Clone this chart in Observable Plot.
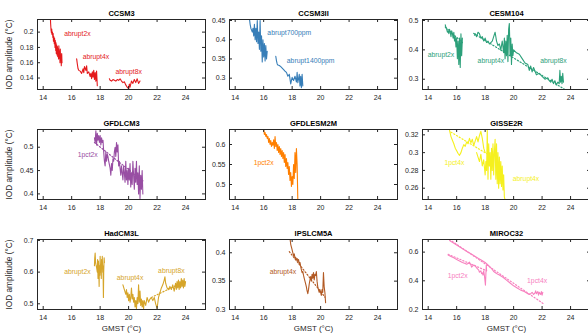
<!DOCTYPE html>
<html><head><meta charset="utf-8">
<script src="https://cdn.jsdelivr.net/npm/d3@7"></script>
<script src="https://cdn.jsdelivr.net/npm/@observablehq/plot@0.6"></script>
<style>
body{margin:0;background:#fff;}
#chart{position:relative;width:588px;height:334px;overflow:hidden;background:#fff;}
#chart svg{position:absolute;}
</style></head><body><div id="chart"></div><script>
// ---------- shared axes ----------
const xDomain = [13.6, 25.4];
const xTicks = [14, 16, 18, 20, 22, 24];
const titles = ["CCSM3","CCSM3II","CESM104","GFDLCM3","GFDLESM2M","GISSE2R","HadCM3L","IPSLCM5A","MIROC32"];
const colors = ["#e41a1c","#377eb8","#2ca07a","#984ea3","#ff7f00","#f5f01e","#d6a52a","#b25a24","#f781bf"];
const yDomains = [[0.125,0.2165],[0.2705,0.4526],[0.265,0.5034],[0.388,0.538],[0.4625,0.6375],[0.2473,0.326],[0.482,0.703],[0.3,0.4234],[0.2,0.688]];
const yTicks = [[0.14,0.16,0.18,0.2],[0.3,0.35,0.4,0.45],[0.3,0.4,0.5],[0.4,0.45,0.5],[0.5,0.55,0.6],[0.26,0.28,0.3,0.32],[0.5,0.6,0.7],[0.3,0.35,0.4],[0.2,0.4,0.6]];

// ---------- CCSM3 ----------
const ccsm3_2x_gmst = [14.50,14.52,14.55,14.58,14.60,14.62,14.65,14.68,14.70,14.72,14.75,14.78,14.80,14.83,14.85,14.88,14.90,14.92,14.95,14.97,15.00,15.02,15.05,15.08,15.10,15.12,15.15,15.18,15.20,15.22,15.25,15.27,15.30,15.32];
const ccsm3_2x_iod  = [0.222,0.212,0.203,0.199,0.204,0.197,0.200,0.193,0.198,0.188,0.194,0.185,0.192,0.180,0.189,0.176,0.186,0.172,0.183,0.170,0.181,0.168,0.178,0.165,0.182,0.166,0.175,0.160,0.178,0.163,0.170,0.156,0.172,0.160];
const ccsm3_4x_gmst = [16.35,16.40,16.45,16.50,16.60,16.70,16.80,16.85,16.90,17.00,17.05,17.10,17.20,17.30,17.35,17.40,17.45,17.50,17.55,17.60,17.65,17.70,17.75,17.80];
const ccsm3_4x_iod  = [0.165,0.158,0.152,0.150,0.149,0.146,0.152,0.147,0.155,0.150,0.156,0.146,0.148,0.142,0.146,0.139,0.148,0.141,0.150,0.138,0.147,0.136,0.149,0.130];
const ccsm3_8x_gmst = [18.65,18.70,18.80,18.90,19.00,19.10,19.20,19.30,19.40,19.50,19.60,19.70,19.80,19.90,20.00,20.05,20.10,20.20,20.30,20.40,20.50,20.60,20.70,20.80];
const ccsm3_8x_iod  = [0.139,0.137,0.136,0.138,0.137,0.136,0.138,0.137,0.139,0.136,0.134,0.135,0.131,0.128,0.126,0.132,0.128,0.136,0.133,0.138,0.134,0.139,0.133,0.136];
const ccsm3_labels = ["abrupt2x","abrupt4x","abrupt8x"];
const ccsm3_label_gmst = [16.4,17.7,20.0];
const ccsm3_label_iod = [0.198,0.168,0.1485];

// ---------- CCSM3II ----------
const ccsm3ii_700_gmst = [15.00,15.05,15.10,15.15,15.20,15.25,15.30,15.35,15.40,15.45,15.50,15.55,15.60,15.65,15.70,15.75,15.80,15.85,15.90,15.95,16.00,16.05,16.10,16.15,16.20,16.25];
const ccsm3ii_700_iod  = [0.455,0.440,0.430,0.425,0.420,0.430,0.410,0.440,0.400,0.430,0.395,0.450,0.390,0.420,0.375,0.450,0.370,0.410,0.342,0.400,0.355,0.390,0.345,0.385,0.350,0.370];
const ccsm3ii_1400_gmst = [16.85,16.90,16.95,17.00,17.10,17.20,17.30,17.40,17.50,17.60,17.70,17.80,17.90,18.00,18.10,18.20,18.30,18.35,18.40,18.50,18.55,18.60,18.65,18.70,18.75];
const ccsm3ii_1400_iod  = [0.357,0.345,0.337,0.334,0.333,0.330,0.326,0.322,0.318,0.315,0.305,0.310,0.285,0.302,0.294,0.305,0.290,0.315,0.288,0.310,0.280,0.305,0.275,0.310,0.280];
const ccsm3ii_labels = ["abrupt700ppm","abrupt1400ppm"];
const ccsm3ii_label_gmst = [17.8,19.3];
const ccsm3ii_label_iod = [0.417,0.345];

// ---------- CESM104 ----------
const cesm_2x_gmst = [15.20,15.25,15.30,15.35,15.40,15.45,15.50,15.55,15.60,15.65,15.70,15.75,15.80,15.85,15.90,15.95,16.00,16.05,16.10,16.15,16.20,16.25,16.30,16.35,16.40];
const cesm_2x_iod  = [0.485,0.475,0.470,0.460,0.465,0.455,0.470,0.460,0.445,0.465,0.455,0.440,0.460,0.430,0.445,0.410,0.440,0.370,0.430,0.350,0.440,0.340,0.455,0.380,0.440];
const cesm_4x_gmst = [17.25,17.30,17.40,17.50,17.60,17.70,17.80,17.90,18.00,18.10,18.20,18.30,18.40,18.50,18.60,18.70,18.80,18.90,19.00,19.10,19.20,19.30,19.35,19.40,19.45,19.50,19.55,19.60,19.65,19.70,19.75,19.80,19.85,19.90,19.95,20.00,20.20,20.40,20.60,20.80,21.00,21.10,21.20,21.30,21.40,21.60,21.80,22.00,22.20,22.40,22.50,22.60,22.70,22.80,22.90,23.00,23.10,23.20,23.25,23.30,23.35,23.40,23.45,23.50];
const cesm_4x_iod  = [0.450,0.455,0.445,0.460,0.455,0.440,0.445,0.430,0.440,0.425,0.430,0.420,0.425,0.430,0.445,0.460,0.430,0.415,0.420,0.400,0.430,0.390,0.440,0.370,0.430,0.380,0.450,0.360,0.470,0.490,0.380,0.440,0.350,0.420,0.380,0.400,0.390,0.385,0.370,0.355,0.350,0.330,0.345,0.325,0.340,0.315,0.320,0.310,0.300,0.305,0.295,0.290,0.300,0.285,0.295,0.280,0.290,0.285,0.330,0.290,0.310,0.285,0.320,0.290];
const cesm_fit2_gmst = [15.2,16.4];
const cesm_fit2_iod = [0.478,0.425];
const cesm_fit4_gmst = [17.2,23.6];
const cesm_fit4_iod = [0.456,0.265];
const cesm_labels = ["abrupt2x","abrupt4x","abrupt8x"];
const cesm_label_gmst = [14.9,18.4,22.8];
const cesm_label_iod = [0.383,0.363,0.361];

// ---------- GFDLCM3 ----------
const gfdlcm3_gmst = [17.60,17.65,17.70,17.75,17.80,17.85,17.90,17.95,18.00,18.05,18.10,18.15,18.20,18.25,18.30,18.35,18.40,18.45,18.50,18.55,18.60,18.70,18.75,18.80,18.85,18.90,18.95,19.00,19.05,19.10,19.15,19.20,19.25,19.30,19.35,19.40,19.45,19.50,19.55,19.60,19.65,19.70,19.75,19.80,19.85,19.90,19.95,20.00,20.05,20.10,20.15,20.20,20.25,20.30,20.35,20.40,20.45,20.50,20.55,20.60,20.65,20.70,20.75,20.80,20.85,20.90,20.95,21.00];
const gfdlcm3_iod  = [0.520,0.510,0.535,0.505,0.530,0.515,0.525,0.510,0.525,0.505,0.520,0.510,0.515,0.490,0.470,0.460,0.490,0.470,0.485,0.480,0.470,0.455,0.440,0.465,0.450,0.475,0.470,0.490,0.500,0.480,0.510,0.490,0.505,0.460,0.470,0.455,0.440,0.460,0.445,0.430,0.460,0.445,0.425,0.470,0.430,0.450,0.420,0.455,0.430,0.465,0.415,0.445,0.420,0.470,0.440,0.410,0.455,0.425,0.470,0.420,0.445,0.400,0.460,0.390,0.440,0.410,0.450,0.400];
const gfdlcm3_fit_gmst = [17.6,21.0];
const gfdlcm3_fit_iod = [0.510,0.428];
const gfdlcm3_labels = ["1pct2x"];
const gfdlcm3_label_gmst = [17.13];
const gfdlcm3_label_iod = [0.484];

// ---------- GFDLESM2M ----------
const gfdlesm_gmst = [16.00,16.05,16.10,16.15,16.20,16.25,16.30,16.35,16.40,16.45,16.50,16.55,16.60,16.65,16.70,16.75,16.80,16.85,16.90,16.95,17.00,17.05,17.10,17.15,17.20,17.25,17.30,17.35,17.40,17.45,17.50,17.55,17.60,17.65,17.70,17.75,17.80,17.85,17.90,17.95,18.00,18.05,18.10,18.15,18.20,18.25,18.30,18.35,18.40];
const gfdlesm_iod  = [0.640,0.625,0.630,0.620,0.625,0.615,0.620,0.605,0.615,0.600,0.610,0.595,0.605,0.598,0.612,0.590,0.620,0.595,0.605,0.585,0.600,0.580,0.595,0.575,0.590,0.570,0.585,0.565,0.580,0.555,0.575,0.545,0.565,0.540,0.555,0.525,0.545,0.510,0.530,0.495,0.520,0.500,0.550,0.515,0.580,0.530,0.590,0.550,0.460];
const gfdlesm_labels = ["1pct2x"];
const gfdlesm_label_gmst = [16.0];
const gfdlesm_label_iod = [0.553];

// ---------- GISSE2R ----------
const giss_1pct_gmst = [15.5,15.6,15.7,15.8,15.9,16.0,16.1,16.2,16.3,16.4,16.5,16.6,16.7,16.8,16.9,17.0,17.1,17.2,17.3,17.4,17.5,17.6,17.7,17.8,17.9,18.0];
const giss_1pct_iod  = [0.325,0.318,0.314,0.310,0.305,0.302,0.299,0.297,0.300,0.305,0.309,0.307,0.312,0.310,0.316,0.311,0.315,0.308,0.313,0.318,0.312,0.319,0.324,0.316,0.305,0.300];
const giss_ab_gmst = [17.40,17.50,17.60,17.70,17.80,17.90,18.00,18.05,18.10,18.15,18.20,18.25,18.30,18.35,18.40,18.45,18.50,18.55,18.60,18.65,18.70,18.75,18.80,18.85,18.90,18.95,19.00,19.05,19.10,19.15,19.20,19.25,19.30,19.35,19.40];
const giss_ab_iod  = [0.300,0.295,0.290,0.298,0.285,0.292,0.275,0.290,0.280,0.325,0.270,0.310,0.285,0.300,0.270,0.305,0.280,0.310,0.275,0.300,0.315,0.270,0.310,0.265,0.300,0.260,0.295,0.265,0.290,0.262,0.285,0.258,0.275,0.250,0.247];
const giss_fit_gmst = [15.6,18.2];
const giss_fit_iod = [0.323,0.298];
const giss_labels = ["1pct4x","abrupt4x"];
const giss_label_gmst = [15.84,20.87];
const giss_label_iod = [0.2888,0.2702];

// ---------- HadCM3L ----------
const had_2x_gmst = [17.60,17.62,17.65,17.68,17.70,17.75,17.80,17.82,17.85,17.88,17.90,17.93,17.95,17.98,18.00,18.03,18.05,18.08,18.10,18.13,18.15,18.18,18.20,18.23,18.25,18.28,18.30];
const had_2x_iod  = [0.620,0.645,0.660,0.630,0.625,0.615,0.600,0.640,0.580,0.635,0.610,0.555,0.620,0.590,0.650,0.600,0.625,0.580,0.640,0.610,0.650,0.600,0.620,0.520,0.600,0.645,0.630];
const had_4x_gmst = [19.60,19.70,19.80,19.85,19.90,19.95,20.00,20.05,20.10,20.15,20.20,20.25,20.30,20.35,20.40,20.45,20.50,20.55,20.60,20.65,20.70,20.75,20.80,20.85,20.90,20.95,21.00,21.05,21.10,21.20,21.30,21.40,21.50,21.60,21.70,21.80,21.90,22.00,22.10,22.20];
const had_4x_iod  = [0.560,0.545,0.530,0.545,0.520,0.535,0.510,0.530,0.505,0.520,0.550,0.515,0.530,0.505,0.520,0.490,0.510,0.484,0.520,0.500,0.560,0.505,0.540,0.495,0.515,0.490,0.510,0.484,0.510,0.495,0.520,0.505,0.515,0.520,0.510,0.520,0.500,0.486,0.520,0.535];
const had_8x_gmst = [22.20,22.30,22.40,22.50,22.55,22.60,22.70,22.80,22.90,23.00,23.10,23.20,23.30,23.35,23.40,23.45,23.50,23.55,23.60,23.65,23.70,23.75,23.80,23.85,23.90,23.95,24.00];
const had_8x_iod  = [0.535,0.550,0.560,0.575,0.585,0.565,0.550,0.545,0.555,0.545,0.560,0.540,0.565,0.545,0.570,0.550,0.575,0.545,0.570,0.550,0.580,0.555,0.575,0.550,0.580,0.555,0.570];
const had_fit_gmst = [21.6,24.0];
const had_fit_iod = [0.520,0.572];
const had_labels = ["abrupt2x","abrupt4x","abrupt8x"];
const had_label_gmst = [16.4,20.1,23.0];
const had_label_iod = [0.600,0.582,0.605];

// ---------- IPSLCM5A ----------
const ipsl_gmst = [17.85,17.90,17.95,18.00,18.05,18.10,18.15,18.20,18.25,18.30,18.35,18.40,18.45,18.50,18.55,18.60,18.65,18.70,18.75,18.80,18.85,18.90,18.95,19.00,19.05,19.10,19.15,19.20,19.25,19.30,19.35,19.40,19.45,19.50,19.55,19.60,19.65,19.70,19.75,19.80,19.85,19.90,19.95,20.00,20.05,20.10,20.15,20.20,20.25,20.30,20.35];
const ipsl_iod  = [0.425,0.415,0.410,0.405,0.400,0.395,0.398,0.390,0.392,0.387,0.390,0.385,0.388,0.380,0.383,0.376,0.370,0.365,0.367,0.360,0.355,0.350,0.345,0.340,0.333,0.328,0.335,0.345,0.352,0.358,0.350,0.362,0.355,0.365,0.352,0.362,0.360,0.367,0.350,0.340,0.335,0.330,0.335,0.330,0.325,0.335,0.330,0.365,0.340,0.330,0.312];
const ipsl_fit_gmst = [17.8,20.3];
const ipsl_fit_iod = [0.402,0.322];
const ipsl_labels = ["abrupt4x"];
const ipsl_label_gmst = [17.35];
const ipsl_label_iod = [0.366];

// ---------- MIROC32 ----------
const miroc_4x_gmst = [15.50,15.75,16.00,16.25,16.50,16.75,17.00,17.25,17.50,17.75,18.00,18.10,18.25,18.40,18.50,18.60,18.75,18.90,19.00,19.25,19.50,19.75,20.00,20.25,20.50,20.75,21.00,21.10,21.20,21.30,21.40,21.50,21.55,21.60,21.70,21.75,21.80,21.90,21.95,22.00,22.05];
const miroc_4x_iod  = [0.680,0.665,0.650,0.634,0.618,0.603,0.588,0.573,0.558,0.543,0.528,0.520,0.505,0.490,0.480,0.465,0.455,0.445,0.440,0.425,0.405,0.385,0.365,0.350,0.335,0.325,0.310,0.305,0.310,0.320,0.305,0.315,0.330,0.310,0.325,0.300,0.320,0.305,0.325,0.300,0.320];
const miroc_2x_gmst = [15.40,15.60,15.80,16.00,16.20,16.40,16.60,16.70,16.80,16.90,17.00,17.05,17.10,17.20,17.30,17.40,17.50,17.55,17.60,17.70,17.75,17.80,17.85,17.90,17.95,18.00,18.02,18.05,18.08,18.10];
const miroc_2x_iod  = [0.580,0.570,0.560,0.548,0.538,0.528,0.520,0.515,0.520,0.530,0.510,0.495,0.500,0.510,0.505,0.490,0.480,0.475,0.460,0.470,0.450,0.455,0.440,0.470,0.435,0.390,0.370,0.440,0.510,0.470];
const miroc_fit4_gmst = [15.5,22.1];
const miroc_fit4_iod = [0.688,0.240];
const miroc_fit2_gmst = [15.4,18.1];
const miroc_fit2_iod = [0.585,0.470];
const miroc_labels = ["1pct2x","1pct4x"];
const miroc_label_gmst = [16.07,21.65];
const miroc_label_iod = [0.435,0.397];

// ---------- assemble ----------
const zip = (xs, ys) => xs.map((x, i) => ({x, y: ys[i]}));
const runs = [
  [zip(ccsm3_2x_gmst, ccsm3_2x_iod), zip(ccsm3_4x_gmst, ccsm3_4x_iod), zip(ccsm3_8x_gmst, ccsm3_8x_iod)],
  [zip(ccsm3ii_700_gmst, ccsm3ii_700_iod), zip(ccsm3ii_1400_gmst, ccsm3ii_1400_iod)],
  [zip(cesm_2x_gmst, cesm_2x_iod), zip(cesm_4x_gmst, cesm_4x_iod)],
  [zip(gfdlcm3_gmst, gfdlcm3_iod)],
  [zip(gfdlesm_gmst, gfdlesm_iod)],
  [zip(giss_1pct_gmst, giss_1pct_iod), zip(giss_ab_gmst, giss_ab_iod)],
  [zip(had_2x_gmst, had_2x_iod), zip(had_4x_gmst, had_4x_iod), zip(had_8x_gmst, had_8x_iod)],
  [zip(ipsl_gmst, ipsl_iod)],
  [zip(miroc_4x_gmst, miroc_4x_iod), zip(miroc_2x_gmst, miroc_2x_iod)]
];
const fits = [
  [], [],
  [zip(cesm_fit2_gmst, cesm_fit2_iod), zip(cesm_fit4_gmst, cesm_fit4_iod)],
  [zip(gfdlcm3_fit_gmst, gfdlcm3_fit_iod)],
  [],
  [zip(giss_fit_gmst, giss_fit_iod)],
  [zip(had_fit_gmst, had_fit_iod)],
  [zip(ipsl_fit_gmst, ipsl_fit_iod)],
  [zip(miroc_fit4_gmst, miroc_fit4_iod), zip(miroc_fit2_gmst, miroc_fit2_iod)]
];
const lab = (t, xs, ys) => t.map((s, i) => ({text: s, x: xs[i], y: ys[i]}));
const labels = [
  lab(ccsm3_labels, ccsm3_label_gmst, ccsm3_label_iod),
  lab(ccsm3ii_labels, ccsm3ii_label_gmst, ccsm3ii_label_iod),
  lab(cesm_labels, cesm_label_gmst, cesm_label_iod),
  lab(gfdlcm3_labels, gfdlcm3_label_gmst, gfdlcm3_label_iod),
  lab(gfdlesm_labels, gfdlesm_label_gmst, gfdlesm_label_iod),
  lab(giss_labels, giss_label_gmst, giss_label_iod),
  lab(had_labels, had_label_gmst, had_label_iod),
  lab(ipsl_labels, ipsl_label_gmst, ipsl_label_iod),
  lab(miroc_labels, miroc_label_gmst, miroc_label_iod)
];

const chart = document.getElementById("chart");
const FONT = "'Liberation Sans', Arial, Helvetica, sans-serif";
const AX = "#262626";
const plotLefts = [37, 229, 422];
const plotTops = [19, 129, 239];
const W = 168, H = 70;

titles.forEach((title, i) => {
  const col = i % 3, row = Math.floor(i / 3);
  const mL = col === 0 ? 37 : 24, mR = 1, mT = 19, mB = row === 2 ? 26 : 21;
  const color = colors[i];
  const marks = [];
  runs[i].forEach(r => marks.push(Plot.line(r, {x: "x", y: "y", stroke: color, strokeWidth: 1.1, clip: true})));
  fits[i].forEach(f => marks.push(Plot.line(f, {x: "x", y: "y", stroke: color, strokeWidth: 1.2, strokeDasharray: "1.2,2", clip: true})));
  marks.push(Plot.text(labels[i], {x: "x", y: "y", text: "text", fill: color, fontSize: 6.8, textAnchor: "middle"}));
  // inward ticks on all four sides
  marks.push(Plot.tickX(xTicks, {x: d => d, stroke: AX, insetBottom: H - 3}));
  marks.push(Plot.tickX(xTicks, {x: d => d, stroke: AX, insetTop: H - 3}));
  marks.push(Plot.tickY(yTicks[i], {y: d => d, stroke: AX, insetRight: W - 3}));
  marks.push(Plot.tickY(yTicks[i], {y: d => d, stroke: AX, insetLeft: W - 3}));
  marks.push(Plot.frame({stroke: AX, strokeWidth: 1}));
  marks.push(Plot.text([title], {frameAnchor: "top", lineAnchor: "middle", dy: -6, text: d => d, fontWeight: "bold", fontSize: 7.5, fill: "#000"}));
  if (col === 0) marks.push(Plot.text(["IOD amplitude (°C)"], {frameAnchor: "left", textAnchor: "middle", lineAnchor: "middle", dx: -28, rotate: -90, text: d => d, fontSize: 8.3, fill: AX}));
  if (row === 2) marks.push(Plot.text(["GMST (°C)"], {frameAnchor: "bottom", lineAnchor: "middle", dy: 19, text: d => d, fontSize: 8, fill: AX}));
  const svg = Plot.plot({
    width: mL + W + mR, height: mT + H + mB,
    marginLeft: mL, marginRight: mR, marginTop: mT, marginBottom: mB,
    style: {background: "transparent", fontFamily: FONT, fontSize: "7px", color: AX, overflow: "visible"},
    x: {domain: xDomain, ticks: xTicks, tickSize: 0, tickPadding: 6, tickFormat: d => String(d), label: null},
    y: {domain: yDomains[i], ticks: yTicks[i], tickSize: 0, tickPadding: 4, tickFormat: d => String(d), label: null},
    marks
  });
  svg.style.left = (plotLefts[col] - mL) + "px";
  svg.style.top = (plotTops[row] - mT) + "px";
  chart.appendChild(svg);
});
</script></body></html>
